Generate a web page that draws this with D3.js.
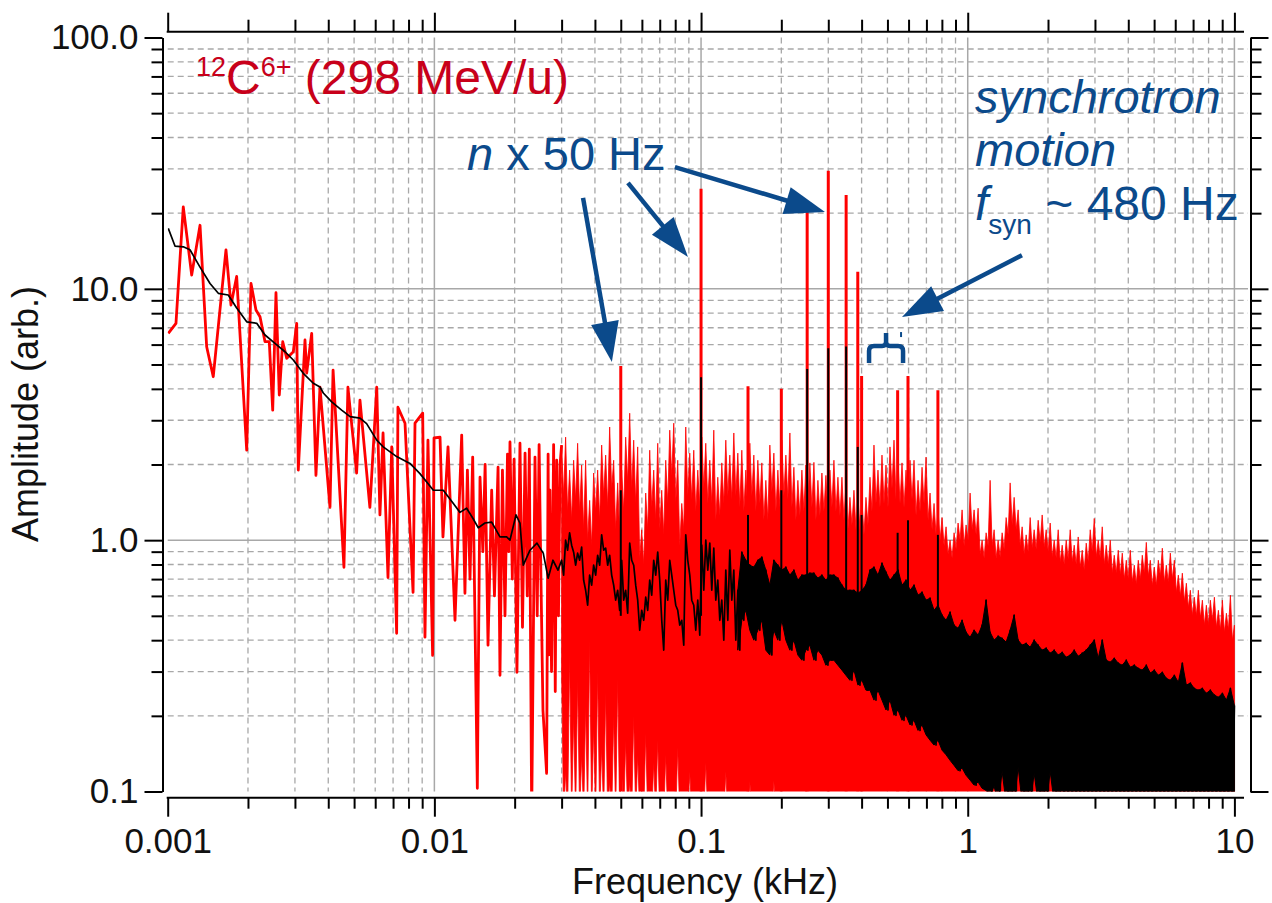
<!DOCTYPE html>
<html>
<head>
<meta charset="utf-8">
<script src="https://cdnjs.cloudflare.com/ajax/libs/d3/7.8.5/d3.min.js"></script>
<style>
body { margin: 0; background: #fff; }
svg { display: block; }
text { font-family: "Liberation Sans", Arial, sans-serif; }
</style>
</head>
<body>
<svg id="chart" width="1272" height="903"></svg>
<script>
// ---- values (frequency in kHz, amplitude arb.) ----
var xTickValues = [0.001, 0.01, 0.1, 1, 10];
var xTickLabels = ['0.001', '0.01', '0.1', '1', '10'];
var yTickValues = [0.1, 1, 10, 100];
var yTickLabels = ['0.1', '1.0', '10.0', '100.0'];

// low frequency part, single samples (frequency in Hz)
var redLowHz = [1.005,1.074,1.144,1.230,1.322,1.400,1.482,1.654,1.727,1.814,1.978,2.053,2.143,2.219,2.317,2.404,2.476,2.547,2.621,2.700,
  2.795,2.958,3.046,3.088,3.272,3.320,3.467,3.597,3.724,4.06,4.17,4.58,4.74,5.11,5.26,5.73,6.08,6.25,6.42,6.70,
  6.92,7.22,7.30,7.76,8.32,8.46,9.04,9.22,9.46,9.85,9.97,10.5,10.77,11.25,11.95,12.66,13.02,13.3,13.6,13.92,
  14.49,14.83,15.2,15.5,15.89,16.40,16.8,17.33,17.62,18.0,18.4,18.8,19.0,19.21,19.6,19.9,20.4,20.94,21.4,21.88,
  22.3,22.7,23.17,23.84,24.3,24.7,25.1,25.54,26.36,26.7,26.9,27.13,27.5,28.0,28.4,28.75,29.2,29.6];
var redLowAmp = [6.65,7.29,21.2,11.35,17.9,5.88,4.47,14.3,8.62,11.2,2.28,10.5,8.23,7.74,6.16,6.16,3.29,9.65,3.78,6.16,
  5.29,5.62,7.29,1.90,6.26,4.62,6.65,1.81,4.06,1.35,4.75,0.78,4.06,1.85,3.61,1.35,4.06,1.26,2.67,0.71,
  2.35,0.426,3.38,2.92,0.62,2.92,3.20,0.411,2.50,0.348,2.55,2.57,1.03,2.35,0.48,2.62,0.615,1.9,0.7,2.14,
  0.103,1.78,0.9,2.0,0.382,1.58,0.6,1.95,0.290,1.9,0.5,2.2,0.9,2.46,0.7,2.1,0.298,2.43,0.45,2.22,
  0.6,2.3,0.08,2.14,0.5,2.4,0.7,0.21,0.118,2.2,0.35,1.58,0.3,2.4,0.25,2.08,0.5,2.0];

var blackLowHz = [1.005,1.065,1.144,1.212,1.322,1.441,1.548,1.687,1.814,1.978,2.157,2.317,2.525,2.754,2.958,3.224,3.515,3.724,3.832,4.12,
  4.49,4.83,5.26,5.57,6.08,6.43,7.22,8.10,8.83,9.91,10.8,11.78,12.47,13.21,13.96,14.61,15.48,16.40,17.62,18.66,
  19.21,20.23,20.94,21.54,22.84,24.25,25.6,26.7,27.84,29.07];
var blackLowAmp = [17.4,14.8,14.7,14.3,12.2,10.5,9.60,9.45,8.39,7.39,7.29,6.55,6.07,5.62,5.21,4.61,4.21,4.07,3.85,3.55,
  3.29,3.10,3.06,2.91,2.50,2.35,2.15,2.02,1.84,1.58,1.58,1.40,1.29,1.34,1.22,1.12,1.17,1.18,1.03,1.03,
  1.00,1.26,1.17,0.795,0.912,0.973,0.888,0.706,0.832,0.760];

// dense part 0.03 .. 10 kHz: per sample a peak, the notch after it and a trough
var denseStart = 0.03, denseEnd = 10;
var redPeak = [2.39,2.57,1.90,2.08,2.43,1.99,2.08,1.44,1.85,1.90,
  2.39,2.18,2.82,2.08,1.69,1.90,2.57,3.20,2.50,2.35,
  1.10,1.54,2.28,1.90,2.43,1.58,2.08,2.74,2.92,2.08,
  1.40,2.82,2.22,2.28,1.90,2.57,2.43,2.08,2.74,1.78,
  2.03,2.50,2.18,2.67,2.22,2.28,1.90,2.43,2.18,2.08,
  2.03,1.73,2.39,2.22,1.90,2.50,2.18,2.67,1.95,1.73,
  1.90,1.99,2.03,2.04,1.73,1.85,1.81,1.90,2.08,1.78,
  1.78,1.66,1.48,1.58,1.51,1.44,1.48,1.78,2.39,1.90,
  2.18,1.99,2.35,2.50,2.08,2.03,1.90,2.08,2.08,1.73,
  1.95,2.14,1.54,1.40,1.32,1.23,1.13,1.00,1.07,1.17,
  1.32,1.15,1.54,1.32,1.34,1.00,1.07,1.73,1.10,1.00,
  1.07,1.23,1.69,1.48,1.32,1.13,1.05,1.23,1.10,1.20,
  1.26,1.10,1.17,1.00,1.10,0.955,1.00,1.10,0.955,1.03,
  0.912,0.973,1.10,1.22,1.00,1.13,0.955,1.00,0.871,0.912,
  0.888,0.832,0.912,0.795,0.832,0.871,0.98,0.832,0.781,0.832,
  0.929,0.795,0.888,0.832,0.726,0.739,0.674,0.632,0.593,0.632,
  0.577,0.551,0.577,0.593,0.526,0.577,0.512,0.604,0.459];
var redNotch = [1.5,1.3,1.2,1.45,1.3,1.1,1.0,0.95,1.3,1.2,
  1.5,1.35,1.6,1.1,1.05,1.3,1.7,1.6,1.4,0.85,
  0.8,1.1,1.35,1.2,1.1,1.05,1.4,1.8,1.4,0.95,
  1.1,1.5,1.45,1.3,1.35,1.6,1.4,1.4,1.2,1.25,
  1.4,1.5,1.45,1.5,1.35,1.3,1.25,1.5,1.3,1.4,
  1.2,1.2,1.55,1.3,1.35,1.5,1.45,1.35,1.2,1.25,
  1.3,1.4,1.35,1.2,1.25,1.3,1.25,1.35,1.3,1.25,
  1.2,1.1,1.15,1.1,1.1,1.05,1.15,1.3,1.4,1.35,
  1.4,1.35,1.6,1.45,1.4,1.35,1.35,1.45,1.25,1.3,
  1.4,1.2,1.1,1.05,1.0,0.95,0.88,0.85,0.92,1.0,
  0.95,1.0,1.1,1.05,0.88,0.85,0.95,0.95,0.85,0.86,
  0.92,1.05,1.15,1.1,0.95,0.88,0.9,0.93,0.92,0.98,
  0.94,0.9,0.86,0.85,0.82,0.8,0.84,0.82,0.8,0.78,
  0.76,0.82,0.9,0.86,0.85,0.8,0.8,0.74,0.74,0.73,
  0.7,0.7,0.68,0.67,0.7,0.74,0.72,0.66,0.66,0.72,
  0.68,0.68,0.7,0.62,0.6,0.57,0.54,0.5,0.5,0.49,
  0.46,0.46,0.48,0.45,0.44,0.43,0.44,0.4,0.4];
var redTrough = [0.30,0.12,0.35,0.20,0.28,0.14,0.22,0.40,0.18,0.30,
  0.15,0.25,0.11,0.20,0.28,0.12,0.16,0.11,0.20,0.14,
  0.10,0.17,0.09,0.13,0.16,0.09,0.14,0.09,0.09,0.15,
  0.08,0.09,0.12,0.08,0.08,0.08,0.13,0.08,0.08,0.08,
  0.08,0.12,0.08,0.08,0.08,0.08,0.08,0.11,0.08,0.08,
  0.08,0.08,0.08,0.11,0.08,0.08,0.08,0.08,0.08,0.08,
  0.08,0.10,0.08,0.08,0.08,0.08,0.08,0.08,0.08,0.08,
  0.08,0.08,0.08,0.08,0.08,0.08,0.08,0.08,0.08,0.08,
  0.08,0.08,0.08,0.08,0.08,0.08,0.08,0.08,0.08,0.08,
  0.08,0.08,0.08,0.08,0.08,0.08,0.08,0.08,0.08,0.08,
  0.08,0.08,0.08,0.08,0.08,0.08,0.08,0.08,0.08,0.08,
  0.08,0.08,0.08,0.08,0.08,0.08,0.08,0.08,0.08,0.08,
  0.08,0.08,0.08,0.08,0.08,0.08,0.08,0.08,0.08,0.08,
  0.08,0.08,0.08,0.08,0.08,0.08,0.08,0.08,0.08,0.08,
  0.08,0.08,0.08,0.08,0.08,0.08,0.08,0.08,0.08,0.08,
  0.08,0.08,0.08,0.08,0.08,0.08,0.08,0.08,0.08,0.08,
  0.08,0.08,0.08,0.08,0.08,0.08,0.08,0.08,0.08];
var redFloor = 0.08; // below the axis
var blackHigh = [0.832,1.00,1.07,0.896,0.888,0.938,0.632,0.726,0.795,0.871,
  1.05,0.929,0.871,0.662,0.632,0.832,0.632,0.973,0.795,0.577,
  0.526,0.593,0.693,0.832,0.896,0.480,0.693,0.832,0.632,0.526,
  0.480,1.05,0.726,0.551,0.577,0.955,1.00,0.973,0.929,0.693,
  0.577,0.760,0.912,0.760,0.632,0.896,0.832,0.795,0.781,0.832,
  0.856,0.760,0.662,0.832,0.795,0.760,0.781,0.726,0.760,0.693,
  0.726,0.726,0.739,0.739,0.706,0.726,0.693,0.726,0.726,0.706,
  0.662,0.632,0.632,0.632,0.615,0.632,0.662,0.760,0.781,0.726,
  0.810,0.746,0.693,0.726,0.760,0.662,0.693,0.632,0.662,0.604,
  0.621,0.577,0.588,0.526,0.551,0.503,0.480,0.517,0.459,0.446,
  0.480,0.430,0.411,0.438,0.419,0.459,0.577,0.430,0.400,0.415,
  0.407,0.393,0.438,0.503,0.400,0.382,0.389,0.375,0.400,0.382,
  0.365,0.372,0.355,0.365,0.349,0.358,0.342,0.349,0.365,0.345,
  0.355,0.365,0.382,0.400,0.339,0.400,0.333,0.327,0.339,0.324,
  0.318,0.333,0.312,0.318,0.309,0.304,0.318,0.296,0.304,0.290,
  0.298,0.282,0.277,0.290,0.272,0.324,0.265,0.270,0.257,0.253,
  0.257,0.246,0.253,0.242,0.237,0.246,0.231,0.257,0.220];
var blackLow = [0.726,0.912,0.955,0.795,0.832,0.693,0.551,0.662,0.726,0.795,
  0.912,0.795,0.726,0.577,0.526,0.577,0.512,0.832,0.662,0.438,
  0.480,0.526,0.604,0.726,0.693,0.365,0.577,0.726,0.551,0.459,
  0.382,0.832,0.577,0.438,0.419,0.632,0.760,0.632,0.577,0.480,
  0.400,0.480,0.577,0.400,0.365,0.480,0.526,0.438,0.400,0.438,
  0.480,0.365,0.349,0.438,0.400,0.480,0.400,0.365,0.400,0.349,
  0.333,0.365,0.382,0.333,0.365,0.349,0.318,0.333,0.333,0.318,
  0.304,0.290,0.277,0.304,0.265,0.277,0.253,0.253,0.231,0.253,
  0.231,0.211,0.231,0.201,0.211,0.192,0.201,0.184,0.192,0.175,
  0.184,0.168,0.160,0.153,0.160,0.146,0.140,0.133,0.127,0.121,
  0.124,0.116,0.111,0.106,0.109,0.103,0.101,0.096,0.105,0.09,
  0.12,0.09,0.10,0.09,0.125,0.09,0.10,0.09,0.118,0.09,
  0.10,0.09,0.12,0.09,0.10,0.08,0.08,0.08,0.08,0.08,
  0.08,0.08,0.08,0.08,0.08,0.08,0.08,0.08,0.08,0.08,
  0.08,0.08,0.08,0.08,0.08,0.08,0.08,0.08,0.08,0.08,
  0.08,0.08,0.08,0.08,0.08,0.08,0.08,0.08,0.08,0.08,
  0.08,0.08,0.08,0.08,0.08,0.08,0.08,0.08,0.08];

// narrow lines: n x 50 Hz and the synchrotron side lines
var lineKHz = [0.05, 0.1, 0.15, 0.2, 0.25, 0.3, 0.35, 0.387, 0.4, 0.546, 0.597, 0.773];
var lineRedAmp = [4.93, 25.0, 4.1, 4.0, 22.0, 29.5, 23.6, 11.7, 4.5, 3.95, 4.5, 3.95];
var lineBlackAmp = [1.58, 4.45, 1.26, 1.58, 4.8, 5.8, 5.9, 2.35, 1.26, 1.07, 1.2, 1.05];

// ---- layout ----
var svg = d3.select('svg');
var plot = {l: 167.7, r: 1234.4, t: 37.5, b: 791.5, rEdge: 1244};
var red = '#ff0000';
var labelRed = '#c8001a';
var blue = '#0b4a8b';
var fontFamily = '"Liberation Sans", Arial, sans-serif';
var blackBandStart = 44; // from this dense sample on the black trace is a filled band

var x = d3.scaleLog().domain([0.001, 10]).range([plot.l, plot.r]);
var y = d3.scaleLog().domain([0.1, 100]).range([plot.b, plot.t]);

function isDecade(v) {
    var l = Math.log10(v);
    return Math.abs(l - Math.round(l)) < 1e-6;
}
var xMinor = x.ticks().filter(function(v) { return !isDecade(v); });
var yMinor = y.ticks().filter(function(v) { return !isDecade(v); });

// grid
var gridG = svg.append('g').attr('class', 'grid');
gridG.selectAll('.vminor').data(xMinor).enter().append('line')
    .attr('x1', function(d) { return x(d); }).attr('x2', function(d) { return x(d); })
    .attr('y1', plot.t).attr('y2', plot.b)
    .attr('stroke', '#a8a8a8').attr('stroke-width', 1.3).attr('stroke-dasharray', '6,4');
gridG.selectAll('.hminor').data(yMinor).enter().append('line')
    .attr('y1', function(d) { return y(d); }).attr('y2', function(d) { return y(d); })
    .attr('x1', plot.l).attr('x2', plot.rEdge + 4)
    .attr('stroke', '#a8a8a8').attr('stroke-width', 1.3).attr('stroke-dasharray', '6,4');
gridG.selectAll('.vmajor').data([0.01, 0.1, 1, 10]).enter().append('line')
    .attr('x1', function(d) { return x(d); }).attr('x2', function(d) { return x(d); })
    .attr('y1', plot.t).attr('y2', plot.b)
    .attr('stroke', '#a8a8a8').attr('stroke-width', 1.5);
gridG.selectAll('.hmajor').data([1, 10]).enter().append('line')
    .attr('y1', function(d) { return y(d); }).attr('y2', function(d) { return y(d); })
    .attr('x1', plot.l).attr('x2', plot.rEdge + 4)
    .attr('stroke', '#a8a8a8').attr('stroke-width', 1.5);

// clip for the traces
svg.append('clipPath').attr('id', 'plotClip').append('rect')
    .attr('x', plot.l).attr('y', plot.t)
    .attr('width', plot.rEdge - plot.l).attr('height', plot.b - plot.t);

// dense frequency grid, one sample per step
var denseKHz = d3.range(redPeak.length).map(function(i) {
    return denseStart * Math.pow(denseEnd / denseStart, i / (redPeak.length - 1));
});
function between(i) { return Math.sqrt(denseKHz[i] * denseKHz[i + 1]); }

// red band: peak over trough at each sample, notch over the floor in between
var redBand = [];
denseKHz.forEach(function(f, i) {
    redBand.push({f: f, hi: redPeak[i], lo: redTrough[i]});
    if (i < denseKHz.length - 1) {
        redBand.push({f: between(i), hi: redNotch[i], lo: redFloor});
    }
});
var blackBand = denseKHz.map(function(f, i) {
    return {f: f, hi: blackHigh[i], lo: blackLow[i]};
});

// black peak / trough pairs -> one zig-zag trace
var blackPts = blackLowHz.map(function(f, i) { return [f / 1000, blackLowAmp[i]]; });
blackHigh.forEach(function(v, i) {
    blackPts.push([denseKHz[i], v]);
    if (i < blackHigh.length - 1) blackPts.push([between(i), blackLow[i]]);
});
var redPts = redLowHz.map(function(f, i) { return [f / 1000, redLowAmp[i]]; })
    .concat([[denseKHz[0], redPeak[0]]]);

var line = d3.line()
    .x(function(d) { return x(d[0]); })
    .y(function(d) { return y(d[1]); });
var band = d3.area()
    .x(function(d) { return x(d.f); })
    .y0(function(d) { return y(d.lo); })
    .y1(function(d) { return y(d.hi); });

var dataG = svg.append('g').attr('clip-path', 'url(#plotClip)');

// red trace: single samples, then the dense band
dataG.append('path')
    .datum(redPts)
    .attr('d', line)
    .attr('fill', 'none')
    .attr('stroke', red)
    .attr('stroke-width', 2.8)
    .attr('stroke-linejoin', 'round');
dataG.append('path')
    .datum(redBand)
    .attr('d', band)
    .attr('fill', red)
    .attr('stroke', red)
    .attr('stroke-width', 0.8);

dataG.selectAll('.redline').data(lineKHz).enter().append('line')
    .attr('class', 'redline')
    .attr('x1', function(d) { return x(d); }).attr('x2', function(d) { return x(d); })
    .attr('y1', y(0.1)).attr('y2', function(d, i) { return y(lineRedAmp[i]); })
    .attr('stroke', red).attr('stroke-width', 3);

// black trace
dataG.append('path')
    .datum(blackBand.slice(blackBandStart))
    .attr('d', band)
    .attr('fill', '#000')
    .attr('stroke', '#000')
    .attr('stroke-width', 1);
dataG.append('path')
    .datum(blackPts)
    .attr('d', line)
    .attr('fill', 'none')
    .attr('stroke', '#000')
    .attr('stroke-width', 1.7)
    .attr('stroke-linejoin', 'round');

dataG.selectAll('.blackline').data(lineKHz).enter().append('line')
    .attr('class', 'blackline')
    .attr('x1', function(d) { return x(d); }).attr('x2', function(d) { return x(d); })
    .attr('y1', y(0.5)).attr('y2', function(d, i) { return y(lineBlackAmp[i]); })
    .attr('stroke', '#000').attr('stroke-width', 2);

// ---- axes ----
function styleAxis(g) {
    g.selectAll('path, line').attr('stroke', '#000').attr('stroke-width', 2);
    g.selectAll('text').attr('fill', '#111').attr('font-size', 35).attr('font-family', fontFamily);
}
var leftX = 162.5, bottomY = 797.7, topY = 31.7, rightX = 1250.5;

svg.append('g').attr('transform', 'translate(' + leftX + ',0)')
    .call(d3.axisLeft(y).tickValues(yMinor).tickSize(11).tickSizeOuter(0).tickFormat(''))
    .call(styleAxis);
svg.append('g').attr('transform', 'translate(' + leftX + ',0)')
    .call(d3.axisLeft(y).tickValues(yTickValues).tickSize(18).tickSizeOuter(0).tickPadding(6)
        .tickFormat(function(d, i) { return yTickLabels[i]; }))
    .call(styleAxis);

svg.append('g').attr('transform', 'translate(' + rightX + ',0)')
    .call(d3.axisRight(y).tickValues(yMinor).tickSize(11).tickSizeOuter(0).tickFormat(''))
    .call(styleAxis);
svg.append('g').attr('transform', 'translate(' + rightX + ',0)')
    .call(d3.axisRight(y).tickValues(yTickValues).tickSize(18).tickSizeOuter(0).tickFormat(''))
    .call(styleAxis);

var bottomMinor = svg.append('g').attr('transform', 'translate(0,' + bottomY + ')')
    .call(d3.axisBottom(x).tickValues(xMinor).tickSize(11).tickFormat(''));
var bottomMajor = svg.append('g').attr('transform', 'translate(0,' + bottomY + ')')
    .call(d3.axisBottom(x).tickValues(xTickValues).tickSize(19).tickPadding(11)
        .tickFormat(function(d, i) { return xTickLabels[i]; }));
var topMinor = svg.append('g').attr('transform', 'translate(0,' + topY + ')')
    .call(d3.axisTop(x).tickValues(xMinor).tickSize(12).tickFormat(''));
var topMajor = svg.append('g').attr('transform', 'translate(0,' + topY + ')')
    .call(d3.axisTop(x).tickValues(xTickValues).tickSize(19).tickFormat(''));
[bottomMinor, bottomMajor, topMinor, topMajor].forEach(function(g) {
    g.select('.domain').remove();
    g.call(styleAxis);
});
[bottomY, topY].forEach(function(yy) {
    svg.append('line')
        .attr('x1', plot.l - 1).attr('x2', plot.rEdge)
        .attr('y1', yy).attr('y2', yy)
        .attr('stroke', '#000').attr('stroke-width', 2);
});

// axis titles
svg.append('text')
    .attr('x', 705).attr('y', 894)
    .attr('text-anchor', 'middle')
    .attr('font-size', 36).attr('fill', '#111')
    .text('Frequency (kHz)');
svg.append('text')
    .attr('transform', 'translate(38,414) rotate(-90)')
    .attr('text-anchor', 'middle')
    .attr('font-size', 36).attr('fill', '#111')
    .text('Amplitude (arb.)');

// ---- annotations ----
var annG = svg.append('g');

var ionLabel = annG.append('text').attr('x', 196).attr('y', 94)
    .attr('fill', labelRed).attr('font-size', 48);
ionLabel.append('tspan').attr('font-size', 27).attr('dy', -18).text('12');
ionLabel.append('tspan').attr('dy', 18).text('C');
ionLabel.append('tspan').attr('font-size', 27).attr('dy', -18).text('6+');
ionLabel.append('tspan').attr('dy', 18).text('\u00a0(298 MeV/u)');

var harmLabel = annG.append('text').attr('x', 467).attr('y', 170)
    .attr('fill', blue).attr('font-size', 47);
harmLabel.append('tspan').attr('font-style', 'italic').text('n');
harmLabel.append('tspan').text(' x 50 Hz');

annG.append('text').attr('x', 975).attr('y', 113)
    .attr('fill', blue).attr('font-size', 47).attr('font-style', 'italic')
    .text('synchrotron');
annG.append('text').attr('x', 975).attr('y', 166)
    .attr('fill', blue).attr('font-size', 47).attr('font-style', 'italic')
    .text('motion');
var synLabel = annG.append('text').attr('x', 975).attr('y', 220)
    .attr('fill', blue).attr('font-size', 48);
synLabel.append('tspan').attr('font-style', 'italic').text('f');
synLabel.append('tspan').attr('font-size', 28).attr('dy', 14).text('syn');
synLabel.append('tspan').attr('dy', -14).text(' ~ 480 Hz');

// arrows, given in data coordinates (kHz, amplitude)
var arrowList = [
    {from: [0.0361, 23.0], to: [0.0463, 5.12]},
    {from: [0.0532, 26.4], to: [0.0893, 13.4]},
    {from: [0.0798, 30.5], to: [0.2915, 20.2]},
    {from: [1.597, 13.6], to: [0.567, 7.73]}
];
arrowList.forEach(function(a) {
    var x0 = x(a.from[0]), y0 = y(a.from[1]);
    var x1 = x(a.to[0]), y1 = y(a.to[1]);
    var dx = x1 - x0, dy = y1 - y0;
    var len = Math.sqrt(dx * dx + dy * dy);
    var ux = dx / len, uy = dy / len;
    var headLen = 40, headW = 14;
    var bx = x1 - ux * headLen, by = y1 - uy * headLen;
    annG.append('line')
        .attr('x1', x0).attr('y1', y0)
        .attr('x2', bx + ux * 4).attr('y2', by + uy * 4)
        .attr('stroke', blue).attr('stroke-width', 4.5);
    annG.append('path')
        .attr('d', 'M' + x1 + ',' + y1 +
            'L' + (bx - uy * headW) + ',' + (by + ux * headW) +
            'L' + (bx + uy * headW) + ',' + (by - ux * headW) + 'Z')
        .attr('fill', blue);
});

// brace over the synchrotron side lines
var braceG = annG.append('g')
    .attr('transform', 'translate(' + x(0.494) + ',' + y(5.92) + ')');
braceG.append('path')
    .attr('d', 'M-17,17 L-17,5 Q-17,0 -12,0 L-4,0 Q0,0 0,-4 L0,-13 M0,-4 Q0,0 4,0 L12,0 Q17,0 17,5 L17,17')
    .attr('fill', 'none').attr('stroke', blue).attr('stroke-width', 4.5);
braceG.append('line')
    .attr('x1', 15).attr('x2', 15).attr('y1', -14).attr('y2', -9)
    .attr('stroke', blue).attr('stroke-width', 2);
</script>
</body>
</html>
